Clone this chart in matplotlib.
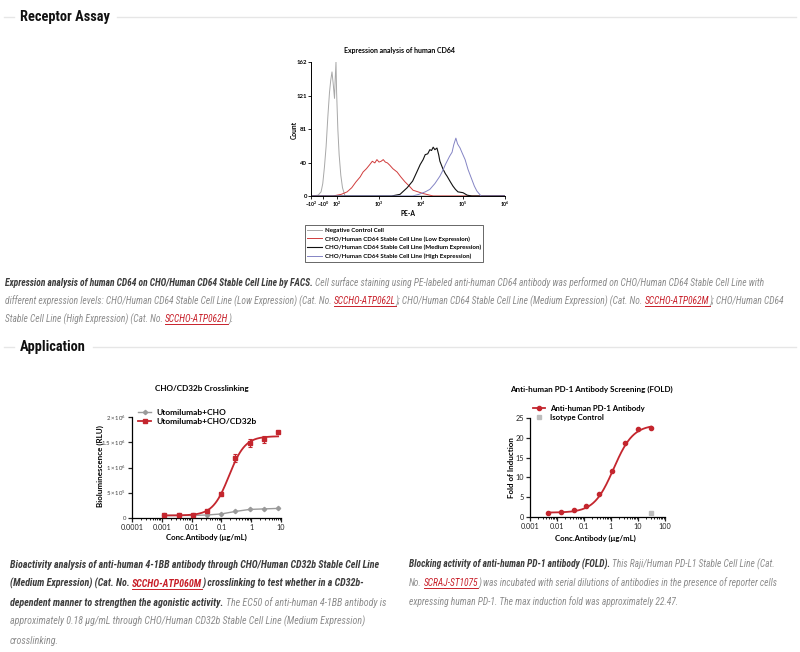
import numpy as np
import matplotlib
matplotlib.use("Agg")
import matplotlib.pyplot as plt
from matplotlib.lines import Line2D
from matplotlib import font_manager as fm
from matplotlib.font_manager import FontProperties
from matplotlib.ticker import LogLocator, NullFormatter, FixedLocator, FixedFormatter

# ---------------- data ----------------
# FACS histogram: x in display decades of PE-A (biexponential axis), y = Count
hist_title = "Expression analysis of human CD64"
hist_tick_pos = [1.38, 1.67, 2, 3, 4, 5, 6]
hist_tick_labels = [r"$\mathbf{-10^{2}}$", r"$\mathbf{-10^{0}}$", r"$\mathbf{10^{2}}$",
                    r"$\mathbf{10^{3}}$", r"$\mathbf{10^{4}}$", r"$\mathbf{10^{5}}$", r"$\mathbf{10^{6}}$"]
hist_y_ticks = [0, 40, 81, 121, 162]

neg_x = [1.40, 1.55, 1.62, 1.66, 1.70, 1.74, 1.78, 1.82, 1.85, 1.88, 1.91, 1.94, 1.955,
         1.975, 1.99, 2.02, 2.05, 2.09, 2.13, 2.19, 2.3, 6.0]
neg_y = [0, 1, 5, 15, 35, 60, 95, 125, 140, 150, 135, 118, 140, 162, 125, 80, 50, 25, 10, 0, 0, 0]

low_x = [1.40, 1.9, 2.1, 2.24, 2.35, 2.45, 2.55, 2.62, 2.7, 2.78, 2.84, 2.9, 2.95, 3.0, 3.05,
         3.1, 3.15, 3.2, 3.26, 3.33, 3.43, 3.52, 3.62, 3.72, 3.81, 3.93, 4.05, 4.29, 6.0]
low_y = [0, 0, 2, 5, 10, 17, 23, 29, 33, 38, 42, 40, 44, 41, 42, 44, 41, 40, 37, 33, 29, 23,
         17, 12, 7, 5, 3, 0, 0]

med_x = [1.40, 3.3, 3.5, 3.67, 3.8, 3.9, 3.98, 4.05, 4.1, 4.16, 4.21, 4.25, 4.29, 4.33, 4.38,
         4.42, 4.45, 4.52, 4.58, 4.62, 4.7, 4.76, 4.82, 4.88, 5.0, 5.1, 5.21, 6.0]
med_y = [0, 0, 2, 10, 18, 29, 38, 44, 50, 51, 56, 55, 59, 56, 58, 50, 42, 33, 27, 24, 17, 12,
         8, 5, 4, 1, 0, 0]

high_x = [1.40, 3.8, 3.95, 4.1, 4.21, 4.33, 4.45, 4.52, 4.58, 4.62, 4.68, 4.74, 4.78, 4.83,
          4.87, 4.93, 4.98, 5.05, 5.12, 5.21, 5.27, 5.33, 5.43, 6.0]
high_y = [0, 0, 2, 5, 8, 15, 24, 31, 38, 42, 48, 53, 62, 70, 63, 58, 52, 44, 32, 20, 12, 6, 0, 0]

hist_labels = ["Negative Control Cell",
               "CHO/Human CD64 Stable Cell Line (Low Expression)",
               "CHO/Human CD64 Stable Cell Line (Medium Expression)",
               "CHO/Human CD64 Stable Cell Line (High Expression)"]

# CHO/CD32b crosslinking
cd32b_conc = [0.00122, 0.00366, 0.011, 0.0329, 0.0988, 0.296, 0.889, 2.667, 8.0]
cd32b_red = [0.05e6, 0.05e6, 0.06e6, 0.14e6, 0.48e6, 1.18e6, 1.48e6, 1.56e6, 1.70e6]
cd32b_red_err = [0.01e6, 0.01e6, 0.01e6, 0.02e6, 0.03e6, 0.08e6, 0.08e6, 0.07e6, 0.02e6]
cd32b_gray = [0.05e6, 0.05e6, 0.05e6, 0.06e6, 0.08e6, 0.13e6, 0.17e6, 0.18e6, 0.19e6]
cd32b_fit = [0.05e6, 1.62e6, 0.18, 1.6]          # bottom, top, EC50, hill
cd32b_yticks = [0, 0.5e6, 1.0e6, 1.5e6, 2.0e6]
cd32b_ytick_labels = ["0", r"$5\times10^{5}$", r"$1\times10^{6}$", r"$1.5\times10^{6}$", r"$2\times10^{6}$"]
cd32b_xticks = [0.0001, 0.001, 0.01, 0.1, 1, 10]
cd32b_xtick_labels = ["0.0001", "0.001", "0.01", "0.1", "1", "10"]
cd32b_labels = ["Utomilumab+CHO", "Utomilumab+CHO/CD32b"]

# Anti-human PD-1 screening
pd1_conc = [0.00457, 0.0137, 0.0412, 0.123, 0.370, 1.11, 3.33, 10, 30]
pd1_fold = [1.0, 1.2, 1.7, 2.9, 5.8, 11.5, 18.6, 22.1, 22.5]
pd1_fit = [1.1, 23.3, 1.25, 1.2]                 # bottom, top, EC50, hill
iso_conc = [30]
iso_fold = [1.0]
pd1_yticks = [0, 5, 10, 15, 20, 25]
pd1_xticks = [0.001, 0.01, 0.1, 1, 10, 100]
pd1_xtick_labels = ["0.001", "0.01", "0.1", "1", "10", "100"]
pd1_labels = ["Anti-human PD-1 Antibody", "Isotype Control"]

# Page text
header1 = "Receptor Assay"
header2 = "Application"
para1 = [
    [("Expression analysis of human CD64 on CHO/Human CD64 Stable Cell Line by FACS.", "b"),
     (" Cell surface staining using PE-labeled anti-human CD64 antibody was performed on CHO/Human CD64 Stable Cell Line with", "n")],
    [("different expression levels: CHO/Human CD64 Stable Cell Line (Low Expression) (Cat. No. ", "n"),
     ("SCCHO-ATP062L", "l"),
     ("); CHO/Human CD64 Stable Cell Line (Medium Expression) (Cat. No. ", "n"),
     ("SCCHO-ATP062M", "l"),
     ("); CHO/Human CD64", "n")],
    [("Stable Cell Line (High Expression) (Cat. No. ", "n"), ("SCCHO-ATP062H", "l"), (").", "n")],
]
para2 = [
    [("Bioactivity analysis of anti-human 4-1BB antibody through CHO/Human CD32b Stable Cell Line", "b")],
    [("(Medium Expression) (Cat. No. ", "b"), ("SCCHO-ATP060M", "lb"),
     (") crosslinking to test whether in a CD32b-", "b")],
    [("dependent manner to strengthen the agonistic activity.", "b"),
     (" The EC50 of anti-human 4-1BB antibody is", "n")],
    [("approximately 0.18 \u03bcg/mL through CHO/Human CD32b Stable Cell Line (Medium Expression)", "n")],
    [("crosslinking.", "n")],
]
para3 = [
    [("Blocking activity of anti-human PD-1 antibody (FOLD).", "b"),
     (" This Raji/Human PD-L1 Stable Cell Line (Cat.", "n")],
    [("No. ", "n"), ("SCRAJ-ST1075", "l"),
     (") was incubated with serial dilutions of antibodies in the presence of reporter cells", "n")],
    [("expressing human PD-1. The max induction fold was approximately 22.47.", "n")],
]

# ---------------- fonts ----------------
CHART_FONT = ["Lato", "DejaVu Sans"]
plt.rcParams["font.family"] = CHART_FONT
plt.rcParams["mathtext.fontset"] = "custom"
plt.rcParams["mathtext.rm"] = "Lato"
plt.rcParams["mathtext.bf"] = "Lato:bold"
plt.rcParams["mathtext.it"] = "Lato:italic"


def _is_bold(f):
    w = f.weight
    if isinstance(w, str):
        return "bold" in w.lower() or w.lower() in ("semibold", "demibold", "heavy", "black")
    return w >= 600


def _narrow(f):
    s = (f.name + " " + str(f.stretch) + " " + f.fname).lower()
    if any(k in s for k in ("extra", "ultra")) and ("condensed" in s or "narrow" in s):
        return False
    return ("narrow" in s) or ("condensed" in s)


def pick_page_fonts():
    prefs = ["open sans", "liberation", "roboto", "noto sans", "lato", "dejavu sans", ""]
    narrow = [f for f in fm.fontManager.ttflist if _narrow(f) and "mono" not in f.name.lower()
              and "serif" not in f.name.lower().replace("sans", "")]
    for p in prefs:
        fams = {}
        for f in narrow:
            if p in f.name.lower():
                fams.setdefault((f.name, str(f.stretch)), []).append(f)
        for key, fl in fams.items():
            it = [f for f in fl if f.style in ("italic", "oblique") and not _is_bold(f)]
            bi = [f for f in fl if f.style in ("italic", "oblique") and _is_bold(f)]
            br = [f for f in fl if f.style == "normal" and _is_bold(f)]
            if it and bi:
                return (it[0].fname, bi[0].fname, br[0].fname if br else bi[0].fname)
    it = fm.findfont(FontProperties(family="Liberation Sans", style="italic"))
    bi = fm.findfont(FontProperties(family="Liberation Sans", style="italic", weight="bold"))
    br = fm.findfont(FontProperties(family="Liberation Sans", weight="bold"))
    return it, bi, br


F_IT, F_BI, F_BR = pick_page_fonts()

W, H = 800, 652
fig = plt.figure(figsize=(W / 100, H / 100), dpi=100)
fig.patch.set_facecolor("white")
renderer = fig.canvas.get_renderer()


def fx(x):
    return x / W


def fy(y):
    return 1 - y / H


def axes_px(left, top, right, bottom):
    return fig.add_axes([fx(left), fy(bottom), (right - left) / W, (bottom - top) / H])


RED = "#c4262e"
GRAY = "#9a9a9a"
LINK = "#c8202a"

STY = {
    "b": ("#3c3c3c", F_BI),
    "n": ("#8c8c8c", F_IT),
    "l": (LINK, F_IT),
    "lb": (LINK, F_BI),
}


def text_w(s, size, st):
    if not s:
        return 0.0
    col, fpath = st
    t = fig.text(0, 0, s, fontproperties=FontProperties(fname=fpath, size=size), color=col)
    w = t.get_window_extent(renderer).width
    t.remove()
    return w


def space_w(size, st):
    return text_w("a a", size, st) - text_w("aa", size, st)


def seg_parts(s):
    core = s.strip(" ")
    lead = len(s) - len(s.lstrip(" "))
    trail = len(s) - len(s.rstrip(" "))
    return lead, core, trail


def line_width(segs, size):
    w = 0
    for s, st in segs:
        lead, core, trail = seg_parts(s)
        sp = space_w(size, STY[st])
        w += lead * sp + text_w(core, size, STY[st]) + trail * sp
    return w


def draw_line(x, yc, segs, size):
    ybase = yc + size * 100 / 72 * 0.36
    for s, st in segs:
        col, fpath = STY[st]
        lead, core, trail = seg_parts(s)
        sp = space_w(size, STY[st])
        x += lead * sp
        if core:
            t = fig.text(fx(x), fy(ybase), core, fontproperties=FontProperties(fname=fpath, size=size),
                         color=col, ha="left", va="baseline")
            w = t.get_window_extent(renderer).width
            if st in ("l", "lb"):
                fig.add_artist(Line2D([fx(x), fx(x + w)], [fy(ybase + 2)] * 2,
                                      transform=fig.transFigure, color=LINK, lw=0.7))
            x += w
        x += trail * sp
    return x


def draw_para(x0, ys, lines, target_ws):
    base = 10.0
    sizes = [base * tw / line_width(ln, base) for ln, tw in zip(lines, target_ws) if tw]
    size = min(9.5, float(np.mean(sizes)))
    for yc, segs in zip(ys, lines):
        draw_line(x0, yc, segs, size)


# ---------------- headers ----------------
HST = ("#111111", F_BR)
hsize = min(11.5, 10.0 * 90 / text_w(header1, 10.0, HST))
for txt, yc, xend in [(header1, 17, 117), (header2, 347, 93)]:
    fig.text(fx(20), fy(yc), txt, fontproperties=FontProperties(fname=F_BR, size=hsize),
             color="#111111", ha="left", va="center")
    for xa, xb in [(4, 14), (xend, 796)]:
        fig.add_artist(Line2D([fx(xa), fx(xb)], [fy(yc)] * 2, transform=fig.transFigure,
                              color="#e6e6e6", lw=1.0))

# ---------------- paragraphs ----------------
draw_para(5, [283, 301, 319], para1, [772, 774, None])
draw_para(10, [564, 583, 602, 621, 640], para2, [366, 357, 370, 355, None])
draw_para(409, [564, 583, 602], para3, [365, 366, 271])

# ---------------- FACS histogram ----------------
ax1 = axes_px(311, 62, 505, 196)
fig.text(fx(400), fy(51), hist_title, fontsize=5.0, fontweight="bold", ha="center", va="center")
h_neg, = ax1.plot(neg_x, neg_y, color="#a8a8a8", lw=0.7)
h_low, = ax1.plot(low_x, low_y, color="#d03c3c", lw=0.7)
h_med, = ax1.plot(med_x, med_y, color="#111111", lw=0.8)
h_high, = ax1.plot(high_x, high_y, color="#8484c4", lw=0.7)
ax1.set_xlim(1.38, 6.0)
ax1.set_ylim(0, 162)
ax1.xaxis.set_major_locator(FixedLocator(hist_tick_pos))
ax1.xaxis.set_major_formatter(FixedFormatter(hist_tick_labels))
ax1.set_yticks(hist_y_ticks)
ax1.set_yticklabels([str(v) for v in hist_y_ticks], fontweight="bold")
for sp in ["top", "right"]:
    ax1.spines[sp].set_visible(False)
for sp in ["left", "bottom"]:
    ax1.spines[sp].set_linewidth(0.7)
ax1.tick_params(axis="x", labelsize=3.7, length=2, width=0.6, pad=1)
ax1.tick_params(axis="y", labelsize=4.3, length=2, width=0.6, pad=0.8)
ax1.patch.set_alpha(0)
fig.text(fx(294), fy(130), "Count", fontsize=4.8, fontweight="bold", rotation=90,
         ha="center", va="center")
fig.text(fx(408), fy(214), "PE-A", fontsize=4.8, fontweight="bold", ha="center", va="center")
leg1 = fig.legend([h_neg, h_low, h_med, h_high], hist_labels, loc="upper left",
                  bbox_to_anchor=(fx(305), fy(225)), bbox_transform=fig.transFigure,
                  prop=dict(weight="bold", size=4.4), frameon=True, fancybox=False,
                  edgecolor="#222222", borderpad=0.4, labelspacing=0.55, handlelength=2.4,
                  handletextpad=0.4, borderaxespad=0)
leg1.get_frame().set_linewidth(0.6)

# ---------------- CHO/CD32b crosslinking ----------------
ax2 = axes_px(132, 417, 281, 518)
fig.text(fx(202), fy(388), "CHO/CD32b Crosslinking", fontsize=5.9, fontweight="bold",
         ha="center", va="center")
b, t, ec, hl = cd32b_fit
xc = np.logspace(np.log10(cd32b_conc[0]), np.log10(cd32b_conc[-1]), 200)
ax2.plot(xc, b + (t - b) / (1 + (ec / xc) ** hl), color=RED, lw=1.3, zorder=3)
ax2.plot(cd32b_conc, cd32b_gray, color=GRAY, lw=1.0, marker="D", ms=2.2, zorder=2)
ax2.errorbar(cd32b_conc, cd32b_red, yerr=cd32b_red_err, fmt="s", color=RED, ms=3.0,
             elinewidth=0.8, capsize=1.6, capthick=0.8, zorder=4)
ax2.set_xscale("log")
ax2.set_xlim(1e-4, 10)
ax2.set_ylim(0, 2.0e6)
ax2.xaxis.set_major_locator(FixedLocator(cd32b_xticks))
ax2.xaxis.set_major_formatter(FixedFormatter(cd32b_xtick_labels))
ax2.xaxis.set_minor_locator(LogLocator(base=10, subs=np.arange(2, 10), numticks=20))
ax2.xaxis.set_minor_formatter(NullFormatter())
ax2.set_yticks(cd32b_yticks)
ax2.set_yticklabels(cd32b_ytick_labels)
for sp in ["top", "right"]:
    ax2.spines[sp].set_visible(False)
for sp in ["left", "bottom"]:
    ax2.spines[sp].set_linewidth(0.9)
ax2.tick_params(axis="both", which="major", labelsize=5.2, length=3, width=0.9, pad=1.5,
                colors="#222222")
ax2.tick_params(axis="x", which="minor", length=1.6, width=0.6)
ax2.tick_params(axis="y", labelsize=4.3, labelcolor="#444444", pad=1.0)
ax2.patch.set_alpha(0)
fig.text(fx(100), fy(466), "Bioluminescence (RLU)", fontsize=5.8, fontweight="bold",
         rotation=90, ha="center", va="center")
fig.text(fx(206), fy(537), "Conc.Antibody (\u03bcg/mL)", fontsize=5.6, fontweight="bold",
         ha="center", va="center")
lh2 = [Line2D([], [], color=GRAY, lw=1.0, marker="D", ms=2.2),
       Line2D([], [], color=RED, lw=1.3, marker="s", ms=3.0)]
ax2.legend(lh2, cd32b_labels, loc="upper left", bbox_to_anchor=(fx(138), fy(409)),
           bbox_transform=fig.transFigure, frameon=False, prop=dict(weight="bold", size=6.0),
           handlelength=1.6, handletextpad=0.6, labelspacing=0.2, borderaxespad=0, borderpad=0)

# ---------------- PD-1 screening ----------------
ax3 = axes_px(530, 418, 665, 517)
fig.text(fx(591), fy(389), "Anti-human PD-1 Antibody Screening (FOLD)", fontsize=5.8,
         fontweight="bold", ha="center", va="center")
b, t, ec, hl = pd1_fit
xc = np.logspace(np.log10(pd1_conc[0]), np.log10(pd1_conc[-1]), 200)
ax3.plot(xc, b + (t - b) / (1 + (ec / xc) ** hl), color=RED, lw=1.3, zorder=3)
ax3.plot(pd1_conc, pd1_fold, "o", color=RED, ms=3.0, zorder=4)
ax3.plot(iso_conc, iso_fold, "s", color="#bdbdbd", ms=3.0, zorder=4)
ax3.set_xscale("log")
ax3.set_xlim(1e-3, 100)
ax3.set_ylim(0, 25)
ax3.xaxis.set_major_locator(FixedLocator(pd1_xticks))
ax3.xaxis.set_major_formatter(FixedFormatter(pd1_xtick_labels))
ax3.xaxis.set_minor_locator(LogLocator(base=10, subs=np.arange(2, 10), numticks=20))
ax3.xaxis.set_minor_formatter(NullFormatter())
ax3.set_yticks(pd1_yticks)
for sp in ["top", "right"]:
    ax3.spines[sp].set_visible(False)
for sp in ["left", "bottom"]:
    ax3.spines[sp].set_linewidth(0.9)
ax3.tick_params(axis="both", which="major", labelsize=5.2, length=3, width=0.9, pad=1.5,
                colors="#222222")
ax3.tick_params(axis="x", which="minor", length=1.6, width=0.6)
ax3.patch.set_alpha(0)
fig.text(fx(511), fy(468), "Fold of Induction", fontsize=5.8, fontweight="bold",
         rotation=90, ha="center", va="center")
fig.text(fx(595), fy(538), "Conc.Antibody (\u03bcg/mL)", fontsize=5.6, fontweight="bold",
         ha="center", va="center")
lh3 = [Line2D([], [], color=RED, lw=1.3, marker="o", ms=3.0),
       Line2D([], [], color="#bdbdbd", lw=0, marker="s", ms=3.0)]
ax3.legend(lh3, pd1_labels, loc="upper left", bbox_to_anchor=(fx(533), fy(405)),
           bbox_transform=fig.transFigure, frameon=False, prop=dict(weight="bold", size=5.6),
           handlelength=1.6, handletextpad=0.6, labelspacing=0.25, borderaxespad=0, borderpad=0)

fig.savefig("out.png", dpi=100, facecolor="white")
